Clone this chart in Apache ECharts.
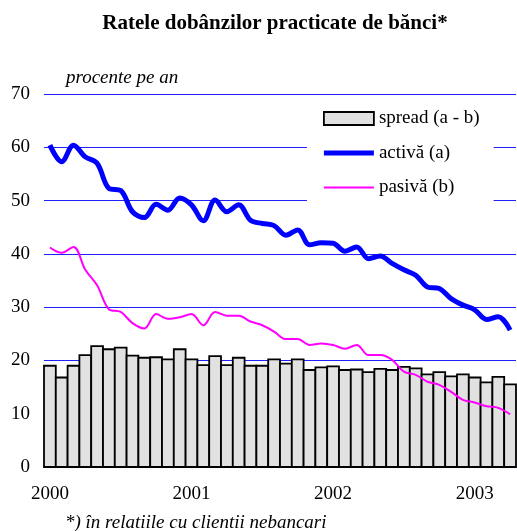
<!DOCTYPE html>
<html>
<head>
<meta charset="utf-8">
<script src="https://cdn.jsdelivr.net/npm/echarts@6/dist/echarts.min.js"></script>
<style>
  html, body { margin: 0; padding: 0; background: #fff; }
  #chart { width: 517px; height: 531px; }
</style>
</head>
<body>
<div id="chart"></div>
<script>
// monthly, Jan 2000 - Apr 2003
const years = ['2000', '2001', '2002', '2003'];
const monthsInLastYear = 4;

const spread = [
  19.0, 16.8, 19.0, 21.0, 22.7, 22.1, 22.4, 20.9, 20.5, 20.6, 20.2, 22.1,
  20.2, 19.1, 20.8, 19.1, 20.5, 19.0, 19.0, 20.2, 19.4, 20.2, 18.2, 18.7,
  18.9, 18.2, 18.3, 17.8, 18.4, 18.2, 18.8, 18.5, 17.4, 17.8, 17.0, 17.4,
  16.8, 15.9, 16.9, 15.5
];
const activa = [
  60.4, 57.3, 60.4, 58.2, 57.0, 52.3, 51.9, 47.9, 46.8, 49.3, 48.2, 50.5,
  49.2, 46.2, 50.1, 47.9, 49.2, 46.3, 45.7, 45.3, 43.5, 44.5, 41.7, 42.1,
  42.0, 40.5, 41.3, 39.1, 39.6, 38.2, 37.0, 36.0, 33.8, 33.5, 31.6, 30.4,
  29.5, 27.7, 28.2, 25.7
];
const pasiva = [
  41.2, 40.2, 41.3, 37.0, 34.1, 29.6, 29.1, 27.0, 26.0, 28.7, 27.8, 28.1,
  28.7, 26.6, 29.1, 28.4, 28.4, 27.3, 26.6, 25.4, 24.0, 24.0, 22.9, 23.2,
  22.9, 22.2, 22.9, 21.0, 21.0, 20.1, 17.9, 17.3, 16.0, 15.4, 14.1, 12.6,
  12.1, 11.4, 11.1, 9.9
];

const categories = [];
years.forEach((y, i) => {
  const n = i === years.length - 1 ? monthsInLastYear : 12;
  for (let m = 1; m <= n; m++) categories.push(y + '-' + String(m).padStart(2, '0'));
});

const serif = '"Liberation Serif", "Times New Roman", serif';
const gridBlue = '#2020ff';

// legend icons for the lines: thin slivers keep the 50x13 box, the band is the line
const thickLine = 'path://M0,0H50V0.01H0Z M0,4H50V9H0Z M0,12.99H50V13H0Z';
const thinLine = 'path://M0,0H50V0.01H0Z M0,5.5H50V7.5H0Z M0,12.99H50V13H0Z';

// full-width bars touching each other, as in the original
function renderSpreadBar(params, api) {
  const base = api.coord([api.value(0), 0]);
  const top = api.coord([api.value(0), api.value(1)]);
  const w = api.size([1, 0])[0];
  return {
    type: 'rect',
    shape: { x: base[0] - w / 2, y: top[1], width: w, height: base[1] - top[1] },
    style: { fill: '#e1e1e1', stroke: '#000', lineWidth: 1.8 }
  };
}

const chart = echarts.init(document.getElementById('chart'), null, { renderer: 'canvas' });
chart.setOption({
  animation: false,
  textStyle: { fontFamily: serif },
  title: {
    text: 'Ratele dobânzilor practicate de bănci*',
    left: 270, top: 8, textAlign: 'center',
    textStyle: { fontFamily: serif, fontSize: 21, fontWeight: 'bold', color: '#000' }
  },
  graphic: [
    { type: 'text', left: 66, top: 68,
      style: { text: 'procente pe an', font: 'italic 19px ' + serif, fill: '#000' } },
    { type: 'text', left: 65, top: 513,
      style: { text: '*) în relatiile cu clientii nebancari', font: 'italic 19px ' + serif, fill: '#000' } }
  ],
  legend: {
    orient: 'vertical',
    left: 307, top: 101,
    padding: [8, 14, 8, 16],
    backgroundColor: '#fff',
    itemWidth: 50, itemHeight: 13, itemGap: 15.5,
    textStyle: { fontFamily: serif, fontSize: 19, lineHeight: 19, color: '#000' },
    data: [
      { name: 'spread (a - b)', icon: 'rect',
        itemStyle: { color: '#e1e1e1', borderColor: '#000', borderWidth: 1.8 } },
      { name: 'activă (a)', icon: thickLine },
      { name: 'pasivă (b)', icon: thinLine }
    ]
  },
  grid: { left: 44, right: 1, top: 94, bottom: 64 },
  xAxis: {
    type: 'category',
    data: categories,
    boundaryGap: true,
    axisLine: { lineStyle: { color: gridBlue, width: 1.5 } },
    axisTick: { interval: 11, length: 6, lineStyle: { color: gridBlue, width: 1.5 } },
    axisLabel: {
      interval: 11, margin: 18,
      fontFamily: serif, fontSize: 19, color: '#000',
      formatter: v => v.slice(0, 4)
    },
    splitLine: { show: false }
  },
  yAxis: {
    type: 'value',
    min: 0, max: 70, interval: 10,
    axisLine: { show: false },
    axisTick: { show: false },
    axisLabel: { margin: 14, fontFamily: serif, fontSize: 19, color: '#000' },
    splitLine: { lineStyle: { color: gridBlue, width: 1.2 } }
  },
  series: [
    {
      name: 'spread (a - b)', type: 'custom',
      data: spread.map((v, i) => [i, v]),
      encode: { x: 0, y: 1 },
      renderItem: renderSpreadBar,
      itemStyle: { color: '#e1e1e1', borderColor: '#000', borderWidth: 1.8 }
    },
    {
      name: 'activă (a)', type: 'line', data: activa,
      smooth: 0.35, showSymbol: false, symbol: 'none',
      itemStyle: { color: '#0000ff' },
      lineStyle: { color: '#0000ff', width: 5 }
    },
    {
      name: 'pasivă (b)', type: 'line', data: pasiva,
      smooth: 0.35, showSymbol: false, symbol: 'none',
      itemStyle: { color: '#ff00ff' },
      lineStyle: { color: '#ff00ff', width: 2 }
    }
  ]
});
</script>
</body>
</html>
